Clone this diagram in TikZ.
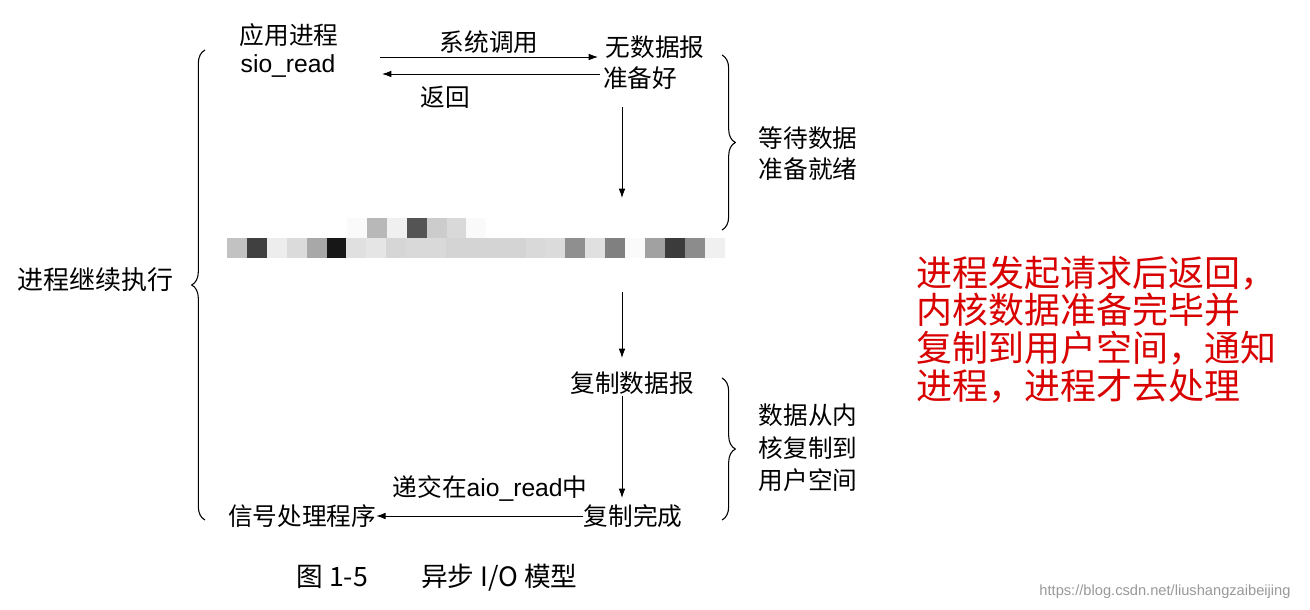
\documentclass[tikz,border=0pt]{standalone}
\usepackage{fontspec}
\setmainfont{Liberation Sans}
\newfontfamily\cjk{Noto Sans CJK SC}
\usetikzlibrary{decorations.pathreplacing,arrows.meta}
\begin{document}
\begin{tikzpicture}[x=0.75pt,y=-0.75pt,
  lbl/.style={font=\cjk\fontsize{18.5}{20}\selectfont,inner sep=0pt},
  arr/.style={-{Latex[length=7pt,width=5pt]},line width=0.7pt},
  brc/.style={decorate,decoration={brace,amplitude=10pt},line width=0.8pt},
  red/.style={font=\cjk\fontsize{27}{28}\selectfont,text=red!85!black,inner sep=0pt,anchor=west}]
\useasboundingbox (0,0) rectangle (1310,610);
\fill[white] (0,0) rectangle (1310,610);
% top
\node[lbl] (app) at (289,35) {应用进程};
\node[lbl,font=\fontsize{18.5}{20}\selectfont] (sio) at (288,66) {sio\_read};
\node[lbl] (nod) at (655,47) {无数据报};
\node[lbl] (rdy) at (640,78) {准备好};
\coordinate (s1) at (380,57); \coordinate (s2) at (598,57);
\draw[arr] (s1) -- (s2) node[lbl,midway,above=2pt] (sys) {系统调用};
\coordinate (r1) at (600,74); \coordinate (r2) at (382,74);
\draw[arr] (r1) -- (r2);
\node[lbl] (ret) at (445,97) {返回};
\coordinate (v1) at (622,107); \coordinate (v2) at (622,198);
\draw[arr] (v1) -- (v2);
\draw[brc] (722,55) -- (722,230);
\node[lbl] (w1) at (808,138) {等待数据};
\node[lbl] (w2) at (808,169) {准备就绪};
% mosaic
\foreach \c [count=\i from 0] in {76,25,93,86,66,9,88,90,84,85,85,83,83,83,83,85,86,56,88,50,98,63,23,55,94}
  \fill[black!\the\numexpr100-\c\relax] (227+\i*19.9,238) rectangle ++(19.9,20);
\foreach \c [count=\i from 0] in {98,72,94,33,80,85,98}
  \fill[black!\the\numexpr100-\c\relax] (347+\i*19.9,218) rectangle ++(19.9,20);
% left brace
\draw[brc] (205,520) -- (205,50);
\node[lbl,font=\cjk\fontsize{19.5}{20}\selectfont] (cont) at (95,280) {进程继续执行};
% lower
\coordinate (v3) at (622,292); \coordinate (v4) at (622,358);
\draw[arr] (v3) -- (v4);
\node[lbl] (cp) at (632,383) {复制数据报};
\coordinate (v5) at (622,396); \coordinate (v6) at (622,498);
\draw[arr] (v5) -- (v6);
\draw[brc] (722,378) -- (722,520);
\node[lbl] (k1) at (808,415) {数据从内};
\node[lbl] (k2) at (808,448) {核复制到};
\node[lbl] (k3) at (808,480) {用户空间};
\node[lbl] (dj) at (490,488) {递交在\fontspec{Liberation Sans}aio\_read\cjk 中};
\node[lbl] (done) at (633,516) {复制完成};
\node[lbl] (sig) at (302,516) {信号处理程序};
\draw[arr] (done.west) -- (sig.east);
% caption
\node[lbl,font=\cjk\fontsize{20}{22}\selectfont] (cap) at (437,578) {图 1-5\qquad 异步 I/O 模型};
% red text
\node[red] (t1) at (916,273) {进程发起请求后返回，};
\node[red] (t2) at (916,310) {内核数据准备完毕并};
\node[red] (t3) at (916,348) {复制到用户空间，通知};
\node[red] (t4) at (916,386) {进程，进程才去处理};
\node[font=\fontsize{11}{12}\selectfont,text=black!40,inner sep=0pt] (wm) at (1165,592) {https://blog.csdn.net/liushangzaibeijing};
\end{tikzpicture}
\end{document}
